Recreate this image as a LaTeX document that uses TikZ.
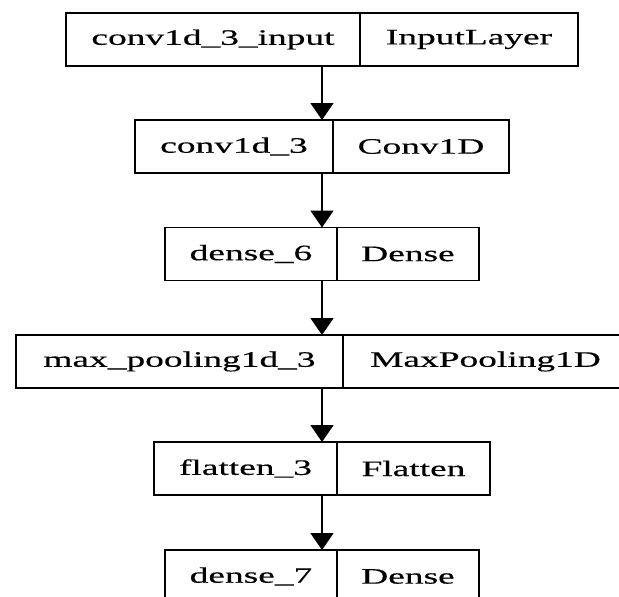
\documentclass[tikz,border=0pt]{standalone}
\usepackage{fontspec}
\usepackage{tikz}
\newfontfamily\layerfont[FakeStretch=1.7,FakeBold=0.4]{Liberation Serif}
\usetikzlibrary{positioning,calc,arrows.meta}

\begin{document}
\begin{tikzpicture}[x=1pt,y=-1pt,
  cell/.style={draw, line width=1.8pt, minimum height=53pt, inner sep=0pt, outer sep=0pt,
    font=\layerfont\fontsize{22}{24}\selectfont},
  flow/.style={-{Triangle[width=23pt,length=17pt]}, line width=1.8pt}]
  \useasboundingbox (0,0) rectangle (619,597);

  % input layer
  \node[cell, anchor=east, minimum width=294pt] (inname) at (360,39.5) {conv1d\_3\_input};
  \node[cell, right=0pt of inname, minimum width=218pt] (intype) {InputLayer};

  % conv1d
  \node[cell, anchor=east, minimum width=198pt] (convname) at (333,146.5) {conv1d\_3};
  \node[cell, right=0pt of convname, minimum width=176pt] (convtype) {Conv1D};

  % dense 6
  \node[cell, anchor=east, minimum width=172pt] (dsixname) at (337,254) {dense\_6};
  \node[cell, right=0pt of dsixname, minimum width=142pt] (dsixtype) {Dense};

  % max pooling
  \node[cell, anchor=east, minimum width=327pt] (poolname) at (343,361.5) {max\_pooling1d\_3};
  \node[cell, right=0pt of poolname, minimum width=285pt] (pooltype) {MaxPooling1D};

  % flatten
  \node[cell, anchor=east, minimum width=183pt] (flatname) at (337,468.5) {flatten\_3};
  \node[cell, right=0pt of flatname, minimum width=153pt] (flattype) {Flatten};

  % dense 7
  \node[cell, anchor=east, minimum width=172pt] (dsevname) at (337,576.5) {dense\_7};
  \node[cell, right=0pt of dsevname, minimum width=142pt] (dsevtype) {Dense};

  % arrows
  \draw[flow] ($(inname.south west)!0.5!(intype.south east)$) -- ($(convname.north west)!0.5!(convtype.north east)$);
  \draw[flow] ($(convname.south west)!0.5!(convtype.south east)$) -- ($(dsixname.north west)!0.5!(dsixtype.north east)$);
  \draw[flow] ($(dsixname.south west)!0.5!(dsixtype.south east)$) -- ($(poolname.north west)!0.5!(pooltype.north east)$);
  \draw[flow] ($(poolname.south west)!0.5!(pooltype.south east)$) -- ($(flatname.north west)!0.5!(flattype.north east)$);
  \draw[flow] ($(flatname.south west)!0.5!(flattype.south east)$) -- ($(dsevname.north west)!0.5!(dsevtype.north east)$);
\end{tikzpicture}
\end{document}
